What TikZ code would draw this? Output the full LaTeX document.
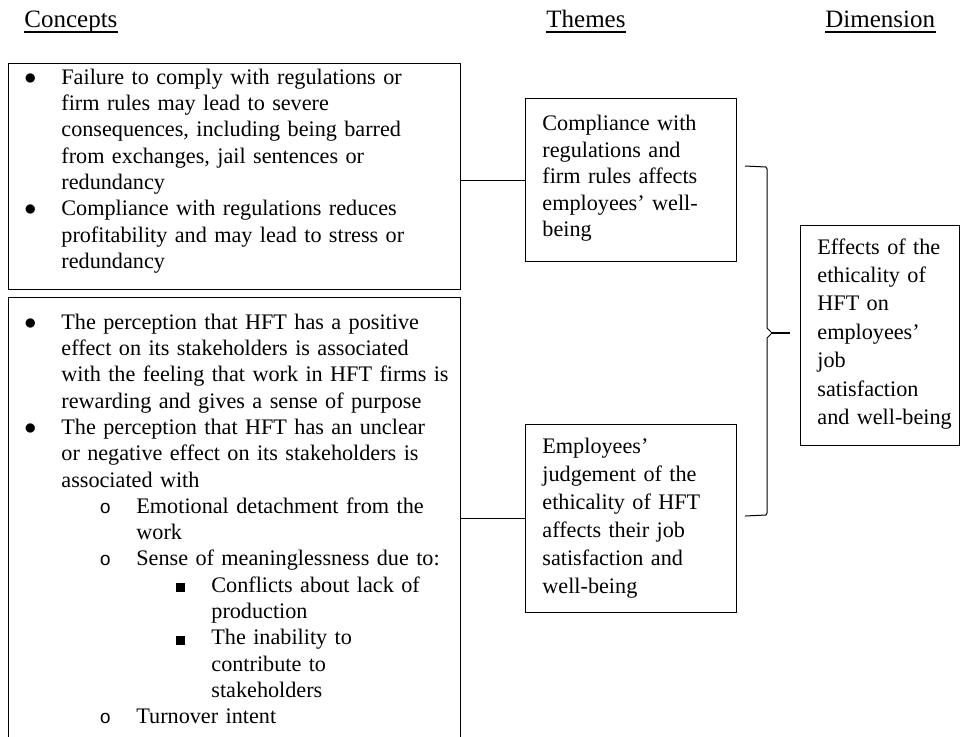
\documentclass[tikz,border=0pt]{standalone}
\usepackage{fontspec}
\setmainfont{Liberation Serif}
\setmonofont{Liberation Mono}
\usepackage{enumitem}
\usetikzlibrary{positioning}

\setlist[itemize]{nosep, labelwidth=6pt, labelsep=12.5pt}
\setlist[itemize,1]{leftmargin=0pt, label=\makebox[6pt][c]{\scalebox{1.1}{$\bullet$}}}
\setlist[itemize,2]{leftmargin=37.5pt, label=\makebox[6pt][c]{\fontsize{9.5pt}{9.5pt}\ttfamily o}}
\setlist[itemize,3]{leftmargin=37.5pt, label=\makebox[6pt][c]{\rule{4.5pt}{4.5pt}}}

\tikzset{
  box/.style={draw, line width=0.6pt, inner sep=0pt, anchor=north west},
  heading/.style={inner sep=0pt, anchor=base west, font=\fontsize{12.5pt}{15pt}\selectfont},
  bodytext/.style={inner sep=0pt, align=left},
  underbar/.style={line width=1pt},
  link/.style={line width=0.5pt},
  tipline/.style={line width=1pt, shorten >=5pt},
}

\begin{document}
\begin{tikzpicture}[x=0.5pt, y=-0.5pt]
\useasboundingbox (0,0) rectangle (960,736);

% column headings
\node[heading] (hconc) at (24,27) {Concepts};
\node[heading] (htheme) at (546,27) {Themes};
\node[heading] (hdim) at (825,27) {Dimension};
\foreach \h in {hconc,htheme,hdim}
  \draw[underbar] ([yshift=-2.5pt]\h.base west) -- ([yshift=-2.5pt]\h.base east);

% boxes
\node[box, minimum width=226pt, minimum height=113pt] (conc1) at (8,63) {};
\node[box, minimum width=226pt, minimum height=224pt] (conc2) at (8,297) {};
\node[box, minimum width=105.5pt, minimum height=81.5pt] (theme1) at (525,98) {};
\node[box, minimum width=105.5pt, minimum height=94pt] (theme2) at (525,424) {};
\node[box, minimum width=79.5pt, minimum height=110pt] (dimbox) at (800,225) {};

% concepts
\node[bodytext, text width=200pt, font=\fontsize{11.1pt}{13.15pt}\selectfont,
  below right=-2.75pt and 26.5pt of conc1.north west] (conc1text) {%
\begin{itemize}
\item Failure to comply with regulations or\\ firm rules may lead to severe\\ consequences, including being barred\\ from exchanges, jail sentences or\\ redundancy
\item Compliance with regulations reduces\\ profitability and may lead to stress or\\ redundancy
\end{itemize}};
\node[bodytext, text width=200pt, font=\fontsize{11.1pt}{13.15pt}\selectfont,
  below right=2.75pt and 26.5pt of conc2.north west] (conc2text) {%
\begin{itemize}
\item The perception that HFT has a positive\\ effect on its stakeholders is associated\\ with the feeling that work in HFT firms is\\ rewarding and gives a sense of purpose
\item The perception that HFT has an unclear\\ or negative effect on its stakeholders is\\ associated with
  \begin{itemize}
  \item Emotional detachment from the\\ work
  \item Sense of meaninglessness due to:
    \begin{itemize}
    \item Conflicts about lack of\\ production
    \item The inability to\\ contribute to\\ stakeholders
    \end{itemize}
  \item Turnover intent
  \end{itemize}
\end{itemize}};

% themes and dimension
\node[bodytext, text width=95pt, font=\fontsize{11.1pt}{13.25pt}\selectfont,
  below right=8.5pt and 8.5pt of theme1.north west] (theme1text)
  {Compliance with\\ regulations and\\ firm rules affects\\ employees' well-\\ being};
\node[bodytext, text width=95pt, font=\fontsize{11.1pt}{14pt}\selectfont,
  below right=7pt and 8.5pt of theme2.north west] (theme2text)
  {Employees'\\ judgement of the\\ ethicality of HFT\\ affects their job\\ satisfaction and\\ well-being};
\node[bodytext, text width=75pt, font=\fontsize{11.1pt}{14.2pt}\selectfont,
  below right=6.5pt and 8.5pt of dimbox.north west] (dimtext)
  {Effects of the\\ ethicality of\\ HFT on\\ employees'\\ job\\ satisfaction\\ and well-being};

% links
\draw[link] (theme1.west) -- (theme1.west -| conc1.east);
\draw[link] (theme2.west) -- (theme2.west -| conc2.east);

% brace
\coordinate (btop) at (745,166);
\coordinate (btip) at (772,333);
\coordinate (bbot) at (745,516);
\draw[link] (btop) -- (766,167) -- (767,169) -- (767,328) -- (btip)
  -- (767,338) -- (767,513) -- (766,515) -- (bbot);
\draw[tipline] (btip) -- (btip -| dimbox.west);
\end{tikzpicture}
\end{document}
